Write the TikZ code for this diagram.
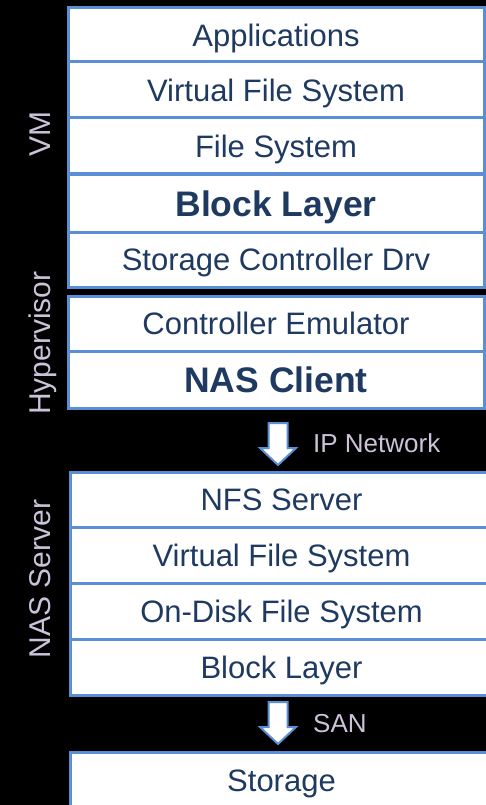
\documentclass[tikz,border=0pt]{standalone}
\usepackage{fontspec}
\setmainfont{Liberation Sans}
\usetikzlibrary{calc}
\definecolor{edgeblue}{HTML}{5A8FD5}
\definecolor{ink}{HTML}{1F3A60}
\definecolor{sidegray}{HTML}{CCC2DA}
\tikzset{
  layer/.style={draw=edgeblue, line width=3pt, fill=white, inner sep=0pt, outer sep=0pt,
    text=ink, font=\fontsize{31}{31}\selectfont, text height=22.2pt, text depth=0pt},
  upper/.style={layer, minimum width=416pt},
  lower/.style={layer, minimum width=423pt},
  strong/.style={font=\fontsize{35.5}{35.5}\selectfont\bfseries, text height=25.5pt},
  side/.style={text=sidegray, font=\fontsize{30}{30}\selectfont, rotate=90, anchor=base, inner sep=0pt},
  netlabel/.style={text=sidegray, font=\fontsize{26}{26}\selectfont, anchor=base west, inner sep=0pt},
  blockarrow/.style={draw=edgeblue, line width=2pt, fill=white, line join=miter}
}
\begin{document}
\begin{tikzpicture}[x=1pt,y=-1pt]
  \fill[black] (0,0) rectangle (486,805);
  \useasboundingbox (0,0) rectangle (486,805);
  \clip (0,0) rectangle (486,805);

  % guest and hypervisor stack
  \node[upper, minimum height=54pt] (app)  at (276,35)    {Applications};
  \node[upper, minimum height=56pt] (vfs)  at (276,90)    {Virtual File System};
  \node[upper, minimum height=56pt] (fs)   at (276,146)   {File System};
  \node[upper, minimum height=57pt, strong] (blk) at (276,203.5) {Block Layer};
  \node[upper, minimum height=55pt] (scd)  at (276,259.5) {Storage Controller Drv};
  \node[upper, minimum height=55pt] (emu)  at (276,323.5) {Controller Emulator};
  \node[upper, minimum height=57pt, strong] (nas) at (276,379.5) {NAS Client};

  % NAS server stack (runs past the right edge)
  \node[lower, minimum height=55pt] (nfs)  at (281.5,499.5) {NFS Server};
  \node[lower, minimum height=56pt] (vfs2) at (281.5,555)   {Virtual File System};
  \node[lower, minimum height=56pt] (odfs) at (281.5,611)   {On-Disk File System};
  \node[lower, minimum height=56pt] (blk2) at (281.5,667)   {Block Layer};
  \node[lower, minimum height=56pt] (stor) at (281.5,780)   {Storage};

  % side captions
  \node[side] (vm)   at (50,134) {VM};
  \node[side] (hyp)  at (50,343) {Hypervisor};
  \node[side] (nass) at (50,579) {NAS Server};

  % block arrows between the stacks
  \coordinate (ipTop)  at ($(nas.south)+(2,15)$);
  \coordinate (sanTop) at ($(blk2.south)+(-3.5,7)$);
  \draw[blockarrow] ($(ipTop)+(-9.5,0)$) -- ++(19,0) -- ++(0,25) -- ++(8.5,0)
    -- ++(-18,17) -- ++(-18,-17) -- ++(8.5,0) -- cycle;
  \draw[blockarrow] ($(sanTop)+(-9.5,0)$) -- ++(19,0) -- ++(0,25) -- ++(8.5,0)
    -- ++(-18,17) -- ++(-18,-17) -- ++(8.5,0) -- cycle;
  \node[netlabel] (iplab)  at ($(ipTop)+(35,29)$)  {IP Network};
  \node[netlabel] (sanlab) at ($(sanTop)+(35,30)$) {SAN};
\end{tikzpicture}
\end{document}
